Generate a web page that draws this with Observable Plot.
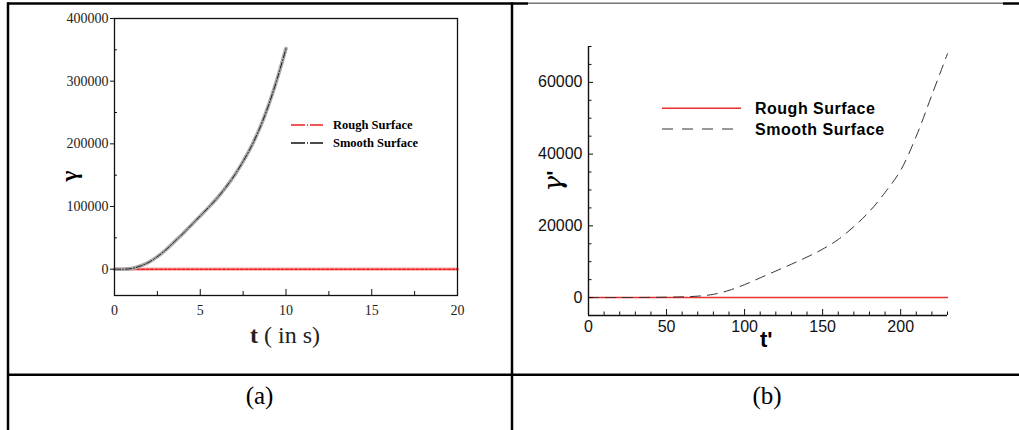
<!DOCTYPE html>
<html><head><meta charset="utf-8">
<script src="https://cdn.jsdelivr.net/npm/d3@7"></script>
<script src="https://cdn.jsdelivr.net/npm/@observablehq/plot@0.6"></script>
<style>
body{margin:0;background:#fff;}
#page{position:relative;width:1019px;height:430px;overflow:hidden;background:#fff;}
#page > svg, #page > div{position:absolute;}
#ov{left:0;top:0;pointer-events:none;}
</style></head><body><div id="page"></div>
<script>
// ---- Panel (a) data ----
const tA = [0, 0.5, 1, 1.5, 2, 2.5, 3, 3.5, 4, 4.5, 5, 5.5, 6, 6.5, 7, 7.5, 8, 8.5, 9, 9.5, 10];
const smoothA = [0, 0, 1000, 5000, 11000, 20000, 31000, 44000, 57000, 71000, 85000, 99000, 114000, 131000, 150000, 172000, 197000, 227000, 263000, 305000, 352000];
const roughTA = [0, 20];
const roughA = [0, 0];
const xTicksA = [0, 5, 10, 15, 20];
const xMinorA = [2.5, 7.5, 12.5, 17.5];
const yTicksA = [0, 100000, 200000, 300000, 400000];
const yMinorA = [50000, 150000, 250000, 350000];

// ---- Panel (b) data ----
const tB = [0, 20, 40, 60, 70, 80, 90, 100, 110, 120, 130, 140, 150, 160, 170, 180, 190, 200, 210, 220, 230];
const smoothB = [0, 0, 50, 200, 400, 900, 2000, 3600, 5500, 7400, 9300, 11300, 13500, 16200, 19800, 24000, 29300, 35500, 45000, 56500, 68000];
const roughTB = [0, 230];
const roughB = [0, 0];
const xTicksB = [0, 50, 100, 150, 200];
const xMinorB = [10, 20, 30, 40, 60, 70, 80, 90, 110, 120, 130, 140, 160, 170, 180, 190, 210, 220, 230];
const yTicksB = [0, 20000, 40000, 60000];
const yMinorB = [5000, 10000, 15000, 25000, 30000, 35000, 45000, 50000, 55000, 65000, 70000];

const legendA = ["Rough Surface", "Smooth Surface"];
const legendB = ["Rough Surface", "Smooth Surface"];

const page = document.getElementById("page");
const fmt = d => String(d);

const dataA = tA.map((t, i) => ({t, g: smoothA[i]}));
const rA = roughTA.map((t, i) => ({t, g: roughA[i]}));

const plotA = Plot.plot({
  width: 510, height: 370,
  marginLeft: 114, marginRight: 53, marginTop: 18, marginBottom: 75,
  x: {domain: [0, 20], label: null},
  y: {domain: [-42000, 400000], label: null},
  style: {fontFamily: "'Liberation Serif', serif", fontSize: "14px", color: "#222", background: "transparent", overflow: "visible"},
  marks: [
    Plot.line(rA, {x: "t", y: "g", stroke: "#ffaaaa", strokeWidth: 3.2}),
    Plot.line(rA, {x: "t", y: "g", stroke: "#ee2020", strokeWidth: 1.4, strokeDasharray: "3,1.5"}),
    Plot.line(dataA, {x: "t", y: "g", stroke: "#aaaaaa", strokeWidth: 3.6, curve: "catmull-rom"}),
    Plot.line(dataA, {x: "t", y: "g", stroke: "#111", strokeWidth: 0.9, strokeDasharray: "6,2,1,2", curve: "catmull-rom"}),
    Plot.frame({stroke: "#111", strokeWidth: 1.3}),
    Plot.axisX({ticks: xTicksA, tickSize: -6, text: null, stroke: "#111", label: null}),
    Plot.axisX({ticks: xMinorA, tickSize: -4, text: null, stroke: "#111", label: null}),
    Plot.axisX({ticks: xTicksA, tickSize: 0, tickPadding: 10, tickFormat: fmt, label: null}),
    Plot.axisY({ticks: yTicksA, tickSize: 4, text: null, stroke: "#111", label: null}),
    Plot.axisY({ticks: yMinorA, tickSize: -3, text: null, stroke: "#111", label: null}),
    Plot.axisY({ticks: yTicksA, tickSize: 0, tickPadding: 6, tickFormat: fmt, label: null})
  ]
});
plotA.style.left = "0px"; plotA.style.top = "0px";
page.appendChild(plotA);

const dataB = tB.map((t, i) => ({t, g: smoothB[i]}));
const rB = roughTB.map((t, i) => ({t, g: roughB[i]}));

const plotB = Plot.plot({
  width: 507, height: 372,
  marginLeft: 76, marginRight: 72, marginTop: 46, marginBottom: 57,
  x: {domain: [0, 230], label: null},
  y: {domain: [-5000, 70000], label: null},
  style: {fontFamily: "'Liberation Sans', Arial, sans-serif", fontSize: "16px", color: "#111", background: "transparent", overflow: "visible"},
  marks: [
    Plot.line(rB, {x: "t", y: "g", stroke: "#e8302f", strokeWidth: 1.4}),
    Plot.line(dataB, {x: "t", y: "g", stroke: "#333", strokeWidth: 1, strokeDasharray: "10,7", curve: "catmull-rom"}),
    Plot.ruleX([0], {stroke: "#111", strokeWidth: 1.4}),
    Plot.ruleY([-5000], {stroke: "#111", strokeWidth: 1.4}),
    Plot.axisX({ticks: xTicksB, tickSize: -6, text: null, stroke: "#111", label: null}),
    Plot.axisX({ticks: xMinorB, tickSize: -3.5, text: null, stroke: "#111", label: null}),
    Plot.axisX({ticks: xTicksB, tickSize: 0, tickPadding: 5, tickFormat: fmt, label: null}),
    Plot.axisY({ticks: yTicksB, tickSize: -5, text: null, stroke: "#111", label: null}),
    Plot.axisY({ticks: yMinorB, tickSize: -3.5, text: null, stroke: "#111", label: null}),
    Plot.axisY({ticks: yTicksB, tickSize: 0, tickPadding: 6, tickFormat: fmt, label: null})
  ]
});
plotB.style.left = "512px"; plotB.style.top = "0px";
page.appendChild(plotB);

// ---- overlay: table lines, titles, legends ----
const NS = "http://www.w3.org/2000/svg";
const ov = document.createElementNS(NS, "svg");
ov.setAttribute("id", "ov");
ov.setAttribute("width", 1019); ov.setAttribute("height", 430);
ov.innerHTML = `
  <g stroke-linecap="butt">
    <line x1="7" y1="3.5" x2="528" y2="3.5" stroke="#000" stroke-width="2.5"/>
    <line x1="528" y1="3.2" x2="1003" y2="3.2" stroke="#777" stroke-width="1.6"/>
    <line x1="1003" y1="3.5" x2="1019" y2="3.5" stroke="#000" stroke-width="2.5"/>
    <line x1="8" y1="2.5" x2="8" y2="430" stroke="#000" stroke-width="2.5"/>
    <line x1="512" y1="2.5" x2="512" y2="430" stroke="#000" stroke-width="2.5"/>
    <line x1="7" y1="374.7" x2="1019" y2="374.7" stroke="#000" stroke-width="2.5"/>
  </g>
  <g font-family="'Liberation Serif', serif" fill="#000">
    <text x="259.5" y="404" font-size="25" text-anchor="middle">(a)</text>
    <text x="767" y="404" font-size="25" text-anchor="middle">(b)</text>
    <text x="250" y="343" font-size="24" fill="#222"><tspan font-weight="bold">t</tspan> ( in s)</text>
    <text transform="translate(77,176) rotate(-90)" font-size="23" font-weight="bold" text-anchor="middle">γ</text>
    <line x1="291" y1="125" x2="323" y2="125" stroke="#ee2020" stroke-width="1.5" stroke-dasharray="14,2,1,2"/>
    <line x1="291" y1="143" x2="323" y2="143" stroke="#111" stroke-width="1.3" stroke-dasharray="14,2,1,2"/>
    <text x="333" y="129" font-size="12.5" font-weight="bold">${legendA[0]}</text>
    <text x="333" y="147" font-size="12.5" font-weight="bold">${legendA[1]}</text>
  </g>
  <g font-family="'Liberation Sans', Arial, sans-serif" fill="#000">
    <line x1="662" y1="108.3" x2="741" y2="108.3" stroke="#e8302f" stroke-width="1.4"/>
    <line x1="662" y1="129" x2="741" y2="129" stroke="#333" stroke-width="1" stroke-dasharray="11,9"/>
    <text x="755" y="113.5" font-size="16" font-weight="bold" letter-spacing="0.5">${legendB[0]}</text>
    <text x="755" y="134.5" font-size="16" font-weight="bold" letter-spacing="0.5">${legendB[1]}</text>
    <text x="760" y="347" font-size="22" font-weight="bold">t'</text>
    <text transform="translate(562,181) rotate(-90)" text-anchor="middle" font-size="26"><tspan font-family="'DejaVu Serif', serif" font-style="italic">γ</tspan><tspan font-size="22" font-weight="bold">'</tspan></text>
  </g>`;
page.appendChild(ov);
</script></body></html>
